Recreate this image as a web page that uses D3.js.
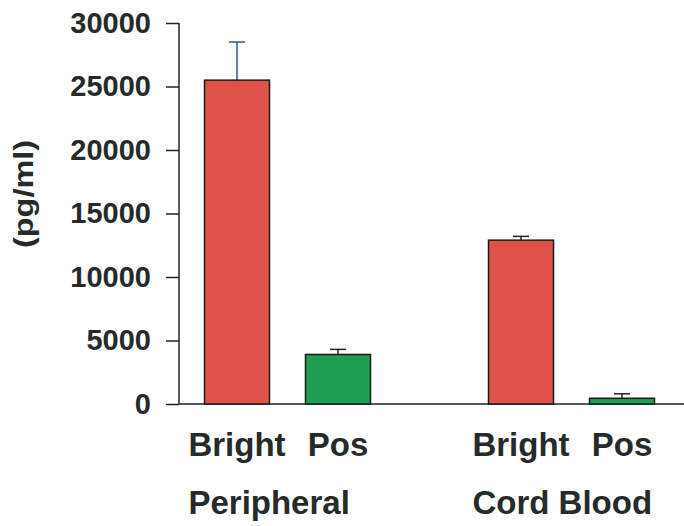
<!DOCTYPE html>
<html>
<head>
<meta charset="utf-8">
<script src="https://cdn.jsdelivr.net/npm/d3@7"></script>
<style>
  html, body { margin: 0; padding: 0; background: #fff; }
  svg { display: block; }
  text { font-family: Arial, "Liberation Sans", sans-serif; font-weight: bold; fill: #262a2a; }
</style>
</head>
<body>
<svg id="chart" width="684" height="526"></svg>
<script>
// Cell source groups and the two subsets measured in each
const groups = ["Peripheral", "Cord Blood"];
const subsets = ["Bright", "Pos"];

// Mean concentration (pg/ml) and upper error value, per group, in subset order
const peripheralMeans = [25500, 3900];
const peripheralErrors = [28500, 4300];
const cordBloodMeans = [12900, 450];
const cordBloodErrors = [13200, 800];

const yTicks = [0, 5000, 10000, 15000, 20000, 25000, 30000];

const rows = [
  { group: groups[0], means: peripheralMeans, errors: peripheralErrors },
  { group: groups[1], means: cordBloodMeans, errors: cordBloodErrors }
];
const bars = rows.flatMap(r => subsets.map((s, i) => ({
  group: r.group, subset: s, value: r.means[i], err: r.errors[i]
})));

const fills = { Bright: "#de5249", Pos: "#1e9e52" };
const errColors = ["#2f5797", "#222", "#222", "#222"];

const svg = d3.select("#chart");

const y = d3.scaleLinear().domain([0, 30000]).range([404, 23]);
const xGroup = d3.scalePoint().domain(groups).range([287.5, 571.5]);
const xSub = d3.scalePoint().domain(subsets).range([-50.5, 50.5]);
const barW = 65;
const cx = d => xGroup(d.group) + xSub(d.subset);

// Y axis
const axisX = 179;
const yAxis = svg.append("g")
  .attr("transform", `translate(${axisX},0)`)
  .call(d3.axisLeft(y).tickValues(yTicks).tickSize(13).tickPadding(15).tickFormat(d3.format("d")));
yAxis.select(".domain").attr("d", `M0,${y(30000)}V${y(0)}`).attr("stroke", "#222").attr("stroke-width", 1.5);
yAxis.selectAll(".tick line").attr("stroke", "#222").attr("stroke-width", 1.5);
yAxis.selectAll(".tick text")
  .attr("font-size", 29)
  .attr("font-family", "Arial, 'Liberation Sans', sans-serif")
  .attr("font-weight", "bold")
  .attr("fill", "#262a2a");

// Baseline across the plot
svg.append("line")
  .attr("x1", axisX).attr("x2", 684)
  .attr("y1", y(0)).attr("y2", y(0))
  .attr("stroke", "#222").attr("stroke-width", 1.5);

// Error bars (upper only)
const eb = svg.append("g").selectAll("g").data(bars).join("g");
eb.append("line")
  .attr("x1", cx).attr("x2", cx)
  .attr("y1", d => y(d.value)).attr("y2", d => y(d.err))
  .attr("stroke", (d, i) => errColors[i]).attr("stroke-width", 1.5);
eb.append("line")
  .attr("x1", d => cx(d) - 8).attr("x2", d => cx(d) + 8)
  .attr("y1", d => y(d.err)).attr("y2", d => y(d.err))
  .attr("stroke", (d, i) => errColors[i]).attr("stroke-width", 1.5);

// Bars
svg.append("g").selectAll("rect").data(bars).join("rect")
  .attr("x", d => cx(d) - barW / 2)
  .attr("width", barW)
  .attr("y", d => y(d.value))
  .attr("height", d => y(0) - y(d.value))
  .attr("fill", d => fills[d.subset])
  .attr("stroke", "#1a1a1a")
  .attr("stroke-width", 1.5);

// Subset labels under each bar
const subLabels = svg.append("g").selectAll("text").data(bars).join("text")
  .attr("x", cx)
  .attr("y", 456)
  .attr("text-anchor", "middle")
  .attr("font-size", 33)
  .text(d => d.subset);

// Group labels, left-aligned with the first subset label of each group
groups.forEach(g => {
  const first = subLabels.filter(d => d.group === g && d.subset === subsets[0]).node();
  const bb = first.getBBox();
  svg.append("text")
    .attr("x", bb.x)
    .attr("y", 514)
    .attr("font-size", 33)
    .text(g);
});

// Y axis title
svg.append("text")
  .attr("transform", "translate(33,194) rotate(-90)")
  .attr("text-anchor", "middle")
  .attr("font-size", 27)
  .attr("textLength", 108)
  .attr("lengthAdjust", "spacingAndGlyphs")
  .text("(pg/ml)");
</script>
</body>
</html>
